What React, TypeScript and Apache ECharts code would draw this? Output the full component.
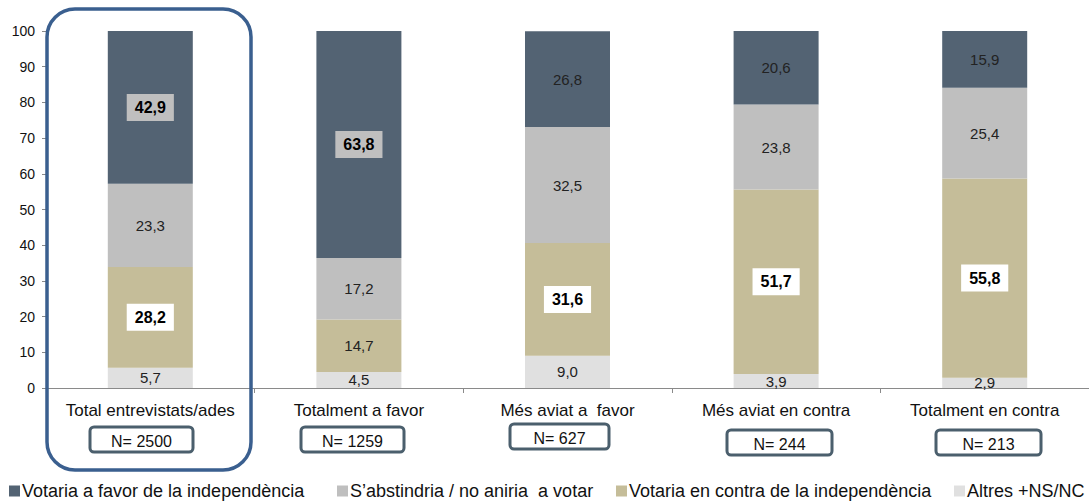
import React, { useEffect, useRef } from "react";
import * as echarts from "echarts";

const categories = [
  "Total entrevistats/ades",
  "Totalment a favor",
  "Més aviat a  favor",
  "Més aviat en contra",
  "Totalment en contra",
];
const sampleSizes = ["N= 2500", "N= 1259", "N= 627", "N= 244", "N= 213"];

const seriesNames = [
  "Votaria a favor de la independència",
  "S’abstindria / no aniria  a votar",
  "Votaria en contra de la independència",
  "Altres +NS/NC",
];
const favorValues = [42.9, 63.8, 26.8, 20.6, 15.9];
const abstValues = [23.3, 17.2, 32.5, 23.8, 25.4];
const contraValues = [28.2, 14.7, 31.6, 51.7, 55.8];
const altresValues = [5.7, 4.5, 9.0, 3.9, 2.9];
const yTicks = [0, 10, 20, 30, 40, 50, 60, 70, 80, 90, 100];

const colors = ["#536373", "#bfbfbf", "#c5bd99", "#e0e0e0"];
const FONT = "Liberation Sans, Arial, sans-serif";

const fmt = (v: number) => v.toFixed(1).replace(".", ",");

const boldFavor = [true, true, false, false, false];
const boldContra = [true, false, true, true, true];

function makeData(values: number[], bold: boolean[] | null, bg: string) {
  return values.map((v, i) => {
    if (bold && bold[i]) {
      return {
        value: v,
        label: {
          fontWeight: "bold",
          fontSize: 16,
          color: "#000",
          backgroundColor: bg,
          padding: [6, 8, 5, 8],
        },
      };
    }
    return { value: v };
  });
}

export default function App() {
  const ref = useRef<HTMLDivElement>(null);
  useEffect(() => {
    if (!ref.current) return;
    const chart = echarts.init(ref.current, null, { renderer: "svg" });

    const baseLabel = {
      show: true,
      position: "inside",
      fontSize: 15,
      fontFamily: FONT,
      color: "#222",
      formatter: (p: any) => fmt(p.value),
    };

    const mk = (name: string, values: number[], color: string, bold: boolean[] | null, bg: string) => ({
      name,
      type: "bar",
      stack: "total",
      barWidth: 85,
      itemStyle: { color },
      label: baseLabel,
      data: makeData(values, bold, bg),
    });

    const boxX = [90, 301, 510, 727, 936];
    const boxY = [427, 427, 424, 430, 430];
    const boxW = [103, 103, 99, 105, 105];
    const graphics: any[] = [
      {
        type: "rect",
        shape: { x: 47, y: 9, width: 204, height: 461, r: 28 },
        style: { fill: "none", stroke: "#3a5f8f", lineWidth: 3.5 },
        z: 100,
      },
    ];
    sampleSizes.forEach((s, i) => {
      graphics.push({
        type: "rect",
        shape: { x: boxX[i], y: boxY[i], width: boxW[i], height: 25, r: 4 },
        style: { fill: "#fff", stroke: "#4b5f6d", lineWidth: 3 },
        z: 100,
      });
      graphics.push({
        type: "text",
        x: boxX[i] + boxW[i] / 2,
        y: boxY[i] + 14,
        style: {
          text: s,
          fontSize: 16,
          fontFamily: FONT,
          fill: "#111",
          align: "center",
          verticalAlign: "middle",
        },
        z: 101,
      });
    });

    const legendLeft = [4, 332, 611, 949];
    const legends = seriesNames.map((n, i) => ({
      left: legendLeft[i],
      top: 477,
      itemWidth: 11,
      itemHeight: 11,
      icon: "rect",
      textStyle: { fontSize: 18, color: "#111", fontFamily: FONT, padding: [0, 0, 0, -3] },
      data: [n],
    }));

    chart.setOption({
      animation: false,
      textStyle: { fontFamily: FONT },
      grid: { left: 46, top: 31, width: 1046, bottom: 114, containLabel: false },
      xAxis: {
        type: "category",
        data: categories,
        axisLine: { lineStyle: { color: "#8a8a8a", width: 1 } },
        axisTick: { show: true, alignWithLabel: false, length: 5, lineStyle: { color: "#8a8a8a" } },
        axisLabel: { fontSize: 17, color: "#111", margin: 14, fontFamily: FONT, interval: 0 },
      },
      yAxis: {
        type: "value",
        min: 0,
        max: 100,
        interval: 10,
        axisLine: { show: true, lineStyle: { color: "#8a8a8a" } },
        axisTick: { show: true, length: 4, lineStyle: { color: "#8a8a8a" } },
        splitLine: { show: false },
        axisLabel: {
          fontSize: 14,
          color: "#111",
          margin: 11,
          fontFamily: FONT,
          formatter: (v: number) => (yTicks.includes(v) ? String(v) : ""),
        },
      },
      legend: legends,
      series: [
        mk(seriesNames[3], altresValues, colors[3], null, "#fff"),
        mk(seriesNames[2], contraValues, colors[2], boldContra, "#fff"),
        mk(seriesNames[1], abstValues, colors[1], null, "#fff"),
        mk(seriesNames[0], favorValues, colors[0], boldFavor, "#bfbfbf"),
      ],
      graphic: graphics,
    });
    return () => chart.dispose();
  }, []);
  return <div ref={ref} style={{ width: 1089, height: 502, position: "absolute", left: 0, top: 0 }} />;
}
